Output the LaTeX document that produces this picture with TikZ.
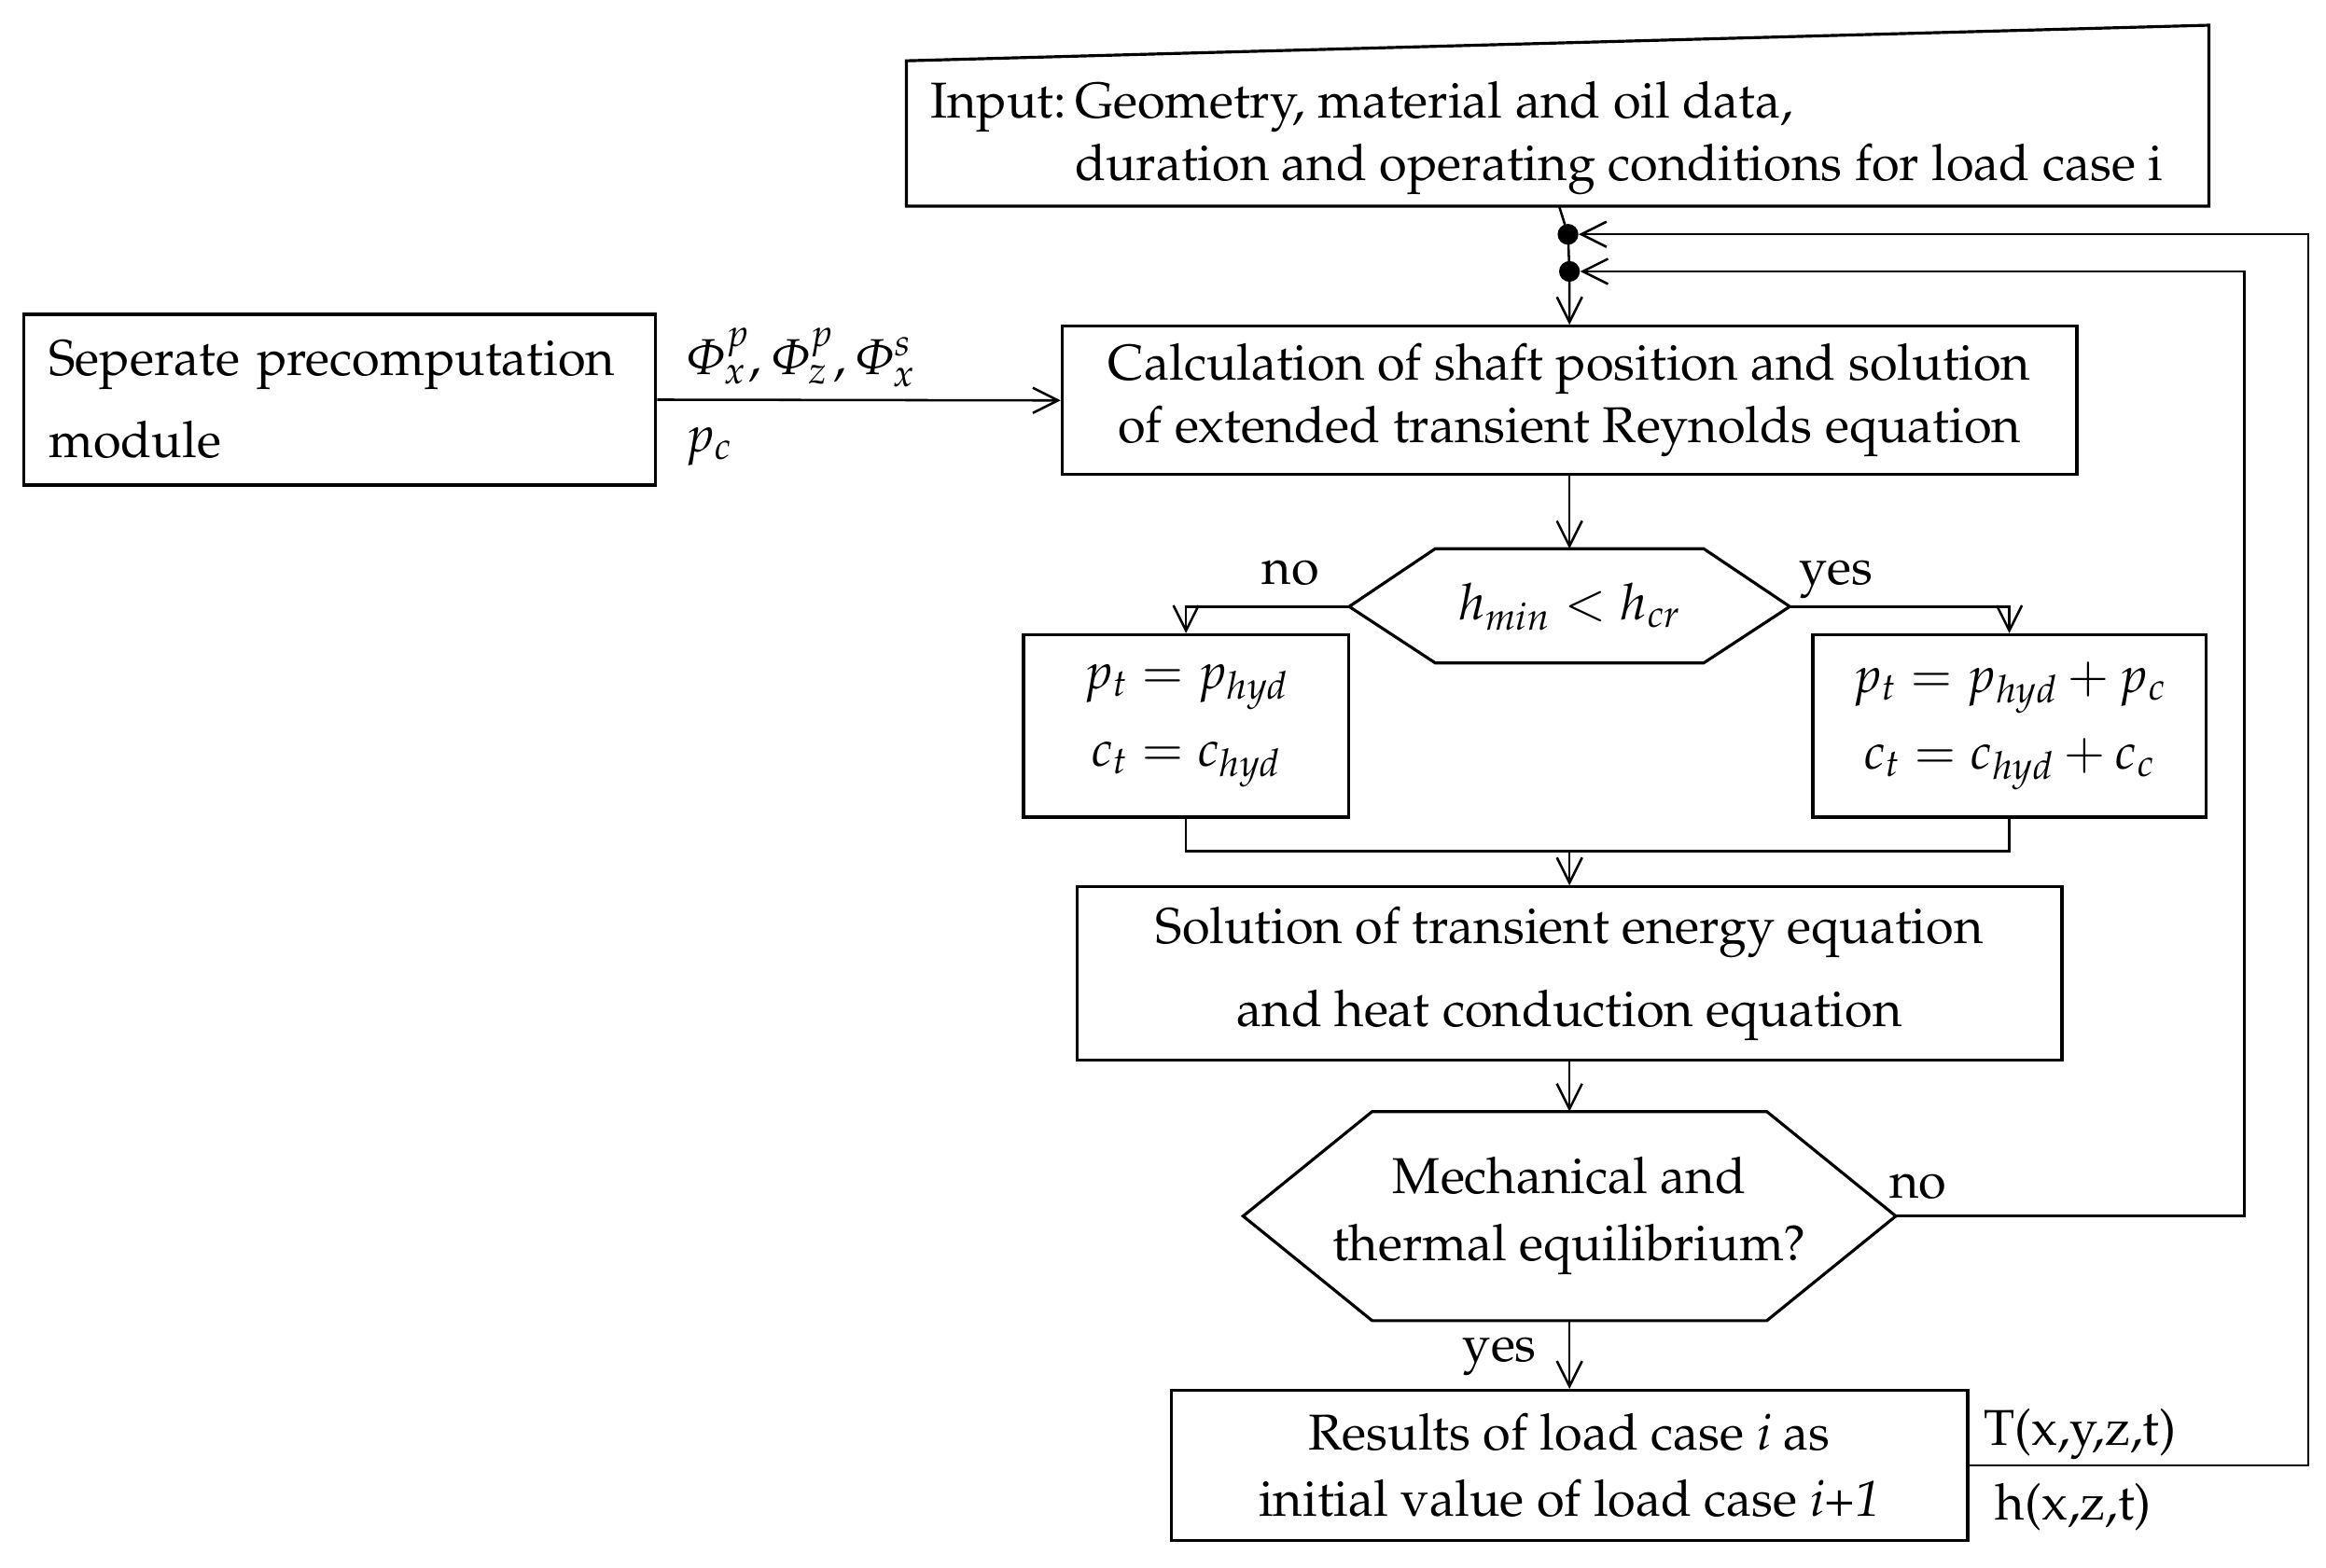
\documentclass[tikz,border=0pt]{standalone}
\usepackage[T1]{fontenc}
\usepackage[slantedGreek]{mathpazo}
\usepackage{tikz}
\usetikzlibrary{arrows.meta,calc}

\tikzset{
  box/.style={draw, line width=2pt, inner sep=0pt, align=center},
  lbl/.style={inner sep=0pt},
  conn/.style={line width=1.6pt},
  arr/.style={conn, -{Straight Barb[length=17pt,width=17pt,line width=1.6pt]}},
  dot/.style={circle, fill, inner sep=0pt, minimum size=14pt}
}

\begin{document}
\begin{tikzpicture}[x=1pt,y=-1pt,font=\fontsize{34}{42}\selectfont]
\useasboundingbox (0,0) rectangle (1568,1057);

% input box (top edge is skewed)
\draw[line width=2pt] (611,41) -- (1489,17) -- (1489,139) -- (611,139) -- cycle;
\node[lbl, anchor=west] (input) at (627,92) {\begin{tabular}{@{}l@{\,}l@{}}
Input: & Geometry, material and oil data,\\
 & duration and operating conditions for load case i
\end{tabular}};
\coordinate (inb) at (1051,139);
\node[dot] (d1) at (1057,158) {};
\node[dot] (d2) at (1058,183) {};

\node[box, minimum width=426pt, minimum height=115pt, text width=392pt, align=left] (sep) at (229,269.5)
  {Seperate precomputation\\[13pt]module};
\node[lbl, anchor=west] (phi) at (462,241) {$\Phi_x^p,\Phi_z^p,\Phi_x^s$};
\node[lbl, anchor=west] (pc) at (462,301) {$p_c$};

\node[box, minimum width=684pt, minimum height=100pt] (calc) at (1058,270)
  {Calculation of shaft position and solution\\of extended transient Reynolds equation};

% first decision
\node[lbl] (hmin) at (1058,409) {$h_{min} < h_{cr}$};
\draw[line width=2pt] ($(hmin)+(-90.5,-39)$) coordinate (h1t) -- ($(hmin)+(90.5,-39)$)
  -- ($(hmin)+(148.5,0)$) coordinate (h1r) -- ($(hmin)+(90.5,38)$) -- ($(hmin)+(-90.5,38)$)
  -- ($(hmin)+(-148.5,0)$) coordinate (h1l) -- cycle;
\coordinate (h1t) at ($(hmin)+(0,-39)$);
\node[lbl, anchor=base] (no1) at (870,394) {no};
\node[lbl, anchor=base] (yes1) at (1238,394) {yes};

\node[box, minimum width=219pt, minimum height=123pt] (pl) at (799.5,489.5)
  {$p_t = p_{hyd}$\\[10pt]$c_t = c_{hyd}$};
\node[box, minimum width=265pt, minimum height=123pt] (pr) at (1354.5,489.5)
  {$p_t = p_{hyd} + p_c$\\[10pt]$c_t = c_{hyd} + c_c$};

\node[box, minimum width=664pt, minimum height=117pt] (energy) at (1058,656.5)
  {Solution of transient energy equation\\[14pt]and heat conduction equation};

% second decision
\node[lbl, align=center] (equil) at (1058,820)
  {Mechanical and\\[3pt]thermal equilibrium?};
\draw[line width=2pt] ($(equil)+(-133,-70.5)$) -- ($(equil)+(133,-70.5)$)
  -- ($(equil)+(220,0)$) coordinate (h2r) -- ($(equil)+(133,70.5)$) -- ($(equil)+(-133,70.5)$)
  -- ($(equil)+(-220,0)$) coordinate (h2l) -- cycle;
\coordinate (h2t) at ($(equil)+(0,-70.5)$);
\coordinate (h2b) at ($(equil)+(0,70.5)$);
\node[lbl, anchor=base] (no2) at (1293,808) {no};
\node[lbl, anchor=base] (yes2) at (1011,918) {yes};

\node[box, minimum width=537pt, minimum height=101pt] (res) at (1058,988)
  {Results of load case \textit{i} as\\[3pt]initial value of load case \textit{i+1}};
\node[lbl, anchor=west] (temp) at (1337,967) {T(x,y,z,t)};
\node[lbl, anchor=west] (gap) at (1345,1016) {h(x,z,t)};

% connectors
\draw[arr] (inb) -- (d1.center) -- (d2.center) -- (calc.north);
\draw[arr] (sep.east) -- (calc.west);
\draw[arr] (calc.south) -- (h1t);
\draw[arr] (h1l) -| (pl.north);
\draw[arr] (h1r) -| (pr.north);
\draw[conn] (pl.south) -- ++(0,22) -| (pr.south);
\coordinate (mrg) at (1058,573);
\draw[arr] (mrg) -- (energy.north);
\draw[arr] (energy.south) -- (h2t);
\draw[arr] (h2b) -- (res.north);
\draw[arr] (h2r) -- (1513,820) |- (d2);
\draw[arr] (res.east) -- (1556,988) |- (d1);
\end{tikzpicture}
\end{document}
